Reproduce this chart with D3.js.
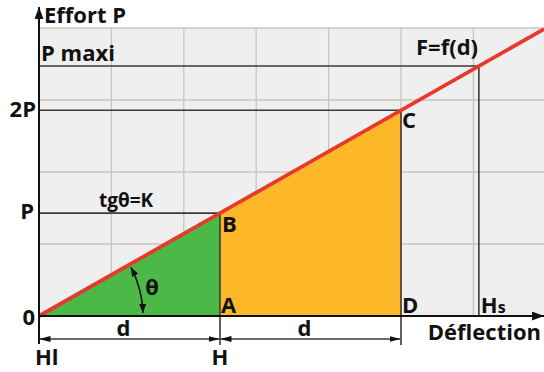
<!DOCTYPE html>
<html><head><meta charset="utf-8">
<script src="https://cdn.jsdelivr.net/npm/d3@7"></script>
<style>html,body{margin:0;padding:0;background:#fff;}svg{display:block;}</style>
</head><body>
<script>
// ---- data (in units of d for x, P for y) ----
const gridX = [0.4, 0.8, 1.2, 1.6, 2.0, 2.4, 2.8];
const gridY = [0.7, 1.4, 2.1, 2.8];
const xMarks = ["Hl", "H", "D", "Hs"];
const xMarkValues = [0, 1, 2, 2.43];
const yMarks = ["0", "P", "2P", "P maxi"];
const yMarkValues = [0, 1, 2, 2.43];
const curveX = [0, 2.79];
const curveY = [0, 2.79];
const greenX = [0, 1, 1];
const greenY = [0, 0, 1];
const orangeX = [1, 1, 2, 2];
const orangeY = [0, 1, 2, 0];
const pointNames = ["A", "B", "C", "D"];
const pointX = [1, 1, 2, 2];
const pointY = [0, 1, 2, 0];
const dimStart = [0, 1];
const dimEnd = [1, 2];

const W = 544, H = 372;
const x = d3.scaleLinear().domain([0, 2.79]).range([39, 544]);
const y = d3.scaleLinear().domain([0, 2.8]).range([316, 28]);
const font = "'Open Sans', sans-serif";

const svg = d3.select("body").append("svg").attr("width", W).attr("height", H);
const defs = svg.append("defs");
function marker(id, len, wid) {
  defs.append("marker").attr("id", id).attr("viewBox", `0 0 ${len} ${wid}`)
    .attr("refX", len).attr("refY", wid / 2).attr("markerWidth", len).attr("markerHeight", wid)
    .attr("markerUnits", "userSpaceOnUse").attr("orient", "auto-start-reverse")
    .append("path").attr("d", `M0,0L${len},${wid / 2}L0,${wid}Z`).attr("fill", "#111");
}
marker("axArrow", 12, 9);
marker("dimArrow", 11, 6);
marker("angArrow", 9, 7);

// background
svg.append("rect").attr("x", x(0)).attr("y", y(2.8)).attr("width", W - x(0)).attr("height", y(0) - y(2.8))
  .attr("fill", "#efefef");
// grid
svg.append("g").selectAll("line").data(gridX).join("line")
  .attr("x1", d => x(d)).attr("x2", d => x(d)).attr("y1", y(0)).attr("y2", y(2.8))
  .attr("stroke", "#c9c5c2").attr("stroke-width", 1.3);
svg.append("g").selectAll("line").data(gridY).join("line")
  .attr("x1", x(0)).attr("x2", W).attr("y1", d => y(d)).attr("y2", d => y(d))
  .attr("stroke", "#c9c5c2").attr("stroke-width", 1.3);

// fills
const poly = (xs, ys) => xs.map((v, i) => [x(v), y(ys[i])]);
svg.append("polygon").attr("points", poly(greenX, greenY).join(" ")).attr("fill", "#4cb848");
svg.append("polygon").attr("points", poly(orangeX, orangeY).join(" ")).attr("fill", "#fdb82a");

// reference lines (levels)
const dark = "#3a3a3a";
for (let i = 1; i < yMarkValues.length; i++) {
  const v = yMarkValues[i];
  svg.append("line").attr("x1", x(0)).attr("x2", x(xMarkValues[i])).attr("y1", y(v)).attr("y2", y(v))
    .attr("stroke", dark).attr("stroke-width", 1.6);
}
for (let i = 1; i < xMarkValues.length; i++) {
  const v = xMarkValues[i];
  svg.append("line").attr("x1", x(v)).attr("x2", x(v)).attr("y1", y(yMarkValues[i])).attr("y2", i < 3 ? 345 : y(0))
    .attr("stroke", dark).attr("stroke-width", 1.6);
}

// red line
svg.append("line").attr("x1", x(curveX[0])).attr("y1", y(curveY[0])).attr("x2", x(curveX[1])).attr("y2", y(curveY[1]))
  .attr("stroke", "#e53a2c").attr("stroke-width", 3.8);

// axes
svg.append("line").attr("x1", x(0)).attr("x2", x(0)).attr("y1", 344).attr("y2", 7)
  .attr("stroke", "#111").attr("stroke-width", 2).attr("marker-end", "url(#axArrow)");
svg.append("line").attr("x1", x(0)).attr("x2", W).attr("y1", y(0)).attr("y2", y(0))
  .attr("stroke", "#111").attr("stroke-width", 2).attr("marker-end", "url(#axArrow)");

// dimension lines
dimStart.forEach((s, i) => {
  svg.append("line").attr("x1", x(s) + 0.5).attr("x2", x(dimEnd[i]) - 0.5).attr("y1", 339).attr("y2", 339)
    .attr("stroke", dark).attr("stroke-width", 1.5)
    .attr("marker-start", "url(#dimArrow)").attr("marker-end", "url(#dimArrow)");
  svg.append("text").attr("x", (x(s) + x(dimEnd[i])) / 2 - 6).attr("y", 336).attr("text-anchor", "middle")
    .attr("font-family", font).attr("font-weight", "bold").attr("font-size", 22).attr("fill", "#111").text("d");
});

// angle arc
const r = 104, ang = Math.atan2(y(0) - y(1), x(1) - x(0));
const a0 = 0.03, a1 = ang - 0.03;
const arc = `M${x(0) + r * Math.cos(a1)},${y(0) - r * Math.sin(a1)} A${r},${r} 0 0 1 ${x(0) + r * Math.cos(a0)},${y(0) - r * Math.sin(a0)}`;
svg.append("path").attr("d", arc).attr("fill", "none").attr("stroke", "#111").attr("stroke-width", 1.6)
  .attr("marker-start", "url(#angArrow)").attr("marker-end", "url(#angArrow)");

// text
const txt = (t, tx, ty, anchor, size) => svg.append("text").attr("x", tx).attr("y", ty)
  .attr("text-anchor", anchor || "start").attr("font-family", font).attr("font-weight", "bold")
  .attr("font-size", size || 22).attr("fill", "#111").text(t);

txt("Effort P", 44, 23);
txt(yMarks[3], 41, 61);
txt(yMarks[2], 36, 117, "end");
txt(yMarks[1], 34, 219, "end");
txt(yMarks[0], 35, 325, "end");
txt("tgθ=K", 99, 207, "start", 19);
txt("F=f(d)", 416, 55);
txt("θ", 152, 295, "middle");
txt(pointNames[0], x(pointX[0]) + 1, 313);
txt(pointNames[1], x(pointX[1]) + 2, 232);
txt(pointNames[2], x(pointX[2]) + 1, 128);
txt(pointNames[3], x(pointX[3]) + 1, 313);
const hs = txt("H", x(xMarkValues[3]) + 2, 313);
hs.append("tspan").attr("font-size", 16).text("s");
txt(xMarks[0], 35, 365);
txt(xMarks[1], x(xMarkValues[1]), 365, "middle");
txt("Déflection", 541, 340, "end");
</script>
</body></html>
